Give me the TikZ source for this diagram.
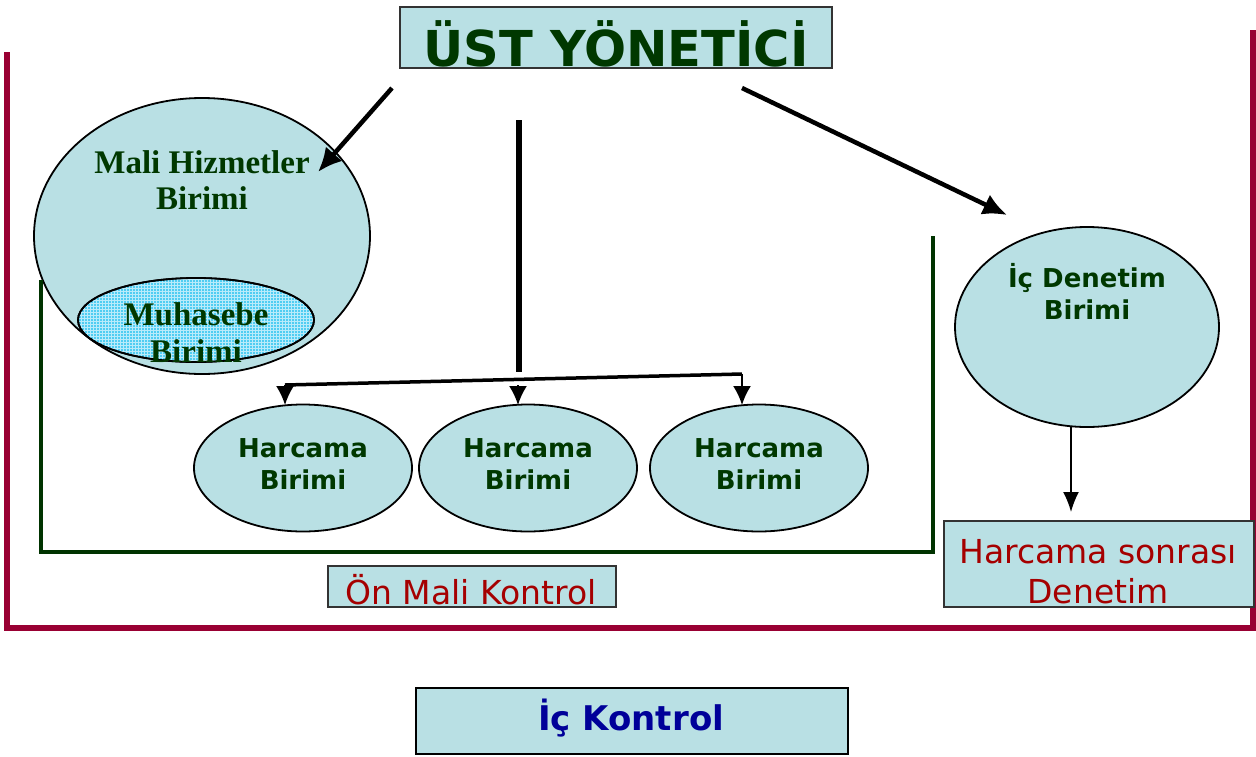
\documentclass[tikz,border=0pt]{standalone}
\usepackage{fontspec}
\usetikzlibrary{shapes.geometric,arrows.meta,patterns}
\newfontfamily\vfont{DejaVu Sans}
\newfontfamily\serfont{Liberation Serif}
\definecolor{lb}{RGB}{185,224,228}
\definecolor{dg}{RGB}{0,56,0}
\definecolor{frm}{RGB}{153,0,51}
\definecolor{brk}{RGB}{0,51,0}
\definecolor{mr}{RGB}{165,0,0}
\definecolor{db}{RGB}{0,0,153}
\definecolor{cy}{RGB}{80,205,242}
\tikzset{
  box/.style={draw=black!80, line width=2pt, fill=lb, inner sep=0pt},
  oval/.style={ellipse, draw=black, line width=1.8pt, fill=lb, inner sep=0pt},
  txt/.style={anchor=base, inner sep=0pt, outer sep=0pt},
  bigarrow/.style={line width=4.5pt, -{Latex[length=24pt,width=22pt]}},
  smallarrow/.style={line width=2pt, -{Latex[length=19pt,width=18pt]}},
}
\begin{document}
\begin{tikzpicture}[x=1pt,y=-1pt]
\useasboundingbox (0,0) rectangle (1256,756);
% frame
\draw[frm, line width=6pt] (7,52) -- (7,628) -- (1256,628);
\draw[frm, line width=6pt] (1253,30) -- (1253,628);
% top box
\node[box, minimum width=432pt, minimum height=61pt] (ust) at (616,37.5) {};
\node[txt, text=dg, font=\vfont\bfseries\fontsize{49.5}{56}\selectfont] (usttxt) at (616,66) {ÜST YÖNETİCİ};
% Mali Hizmetler ellipse
\node[oval, minimum width=336pt, minimum height=276pt] (mali) at (202,236) {};
\node[txt, text=dg, font=\serfont\bfseries\fontsize{33}{38}\selectfont] (mali1) at (202,173) {Mali Hizmetler};
\node[txt, text=dg, font=\serfont\bfseries\fontsize{33}{38}\selectfont] (mali2) at (202,209) {Birimi};
% Muhasebe ellipse
\node[oval, fill=cy, minimum width=236pt, minimum height=84pt] (muh) at (196,320) {};
\fill[pattern=grid, pattern color=white!60!cy] (muh.center) ellipse [x radius=117pt, y radius=41pt];
\draw[line width=1.8pt] (muh.center) ellipse [x radius=118pt, y radius=42pt];
\begin{scope}
\clip (0,0) rectangle (1256,362);
\node[txt, text=dg, font=\serfont\bfseries\fontsize{33}{38}\selectfont] (muh1) at (196,325) {Muhasebe};
\node[txt, text=dg, font=\serfont\bfseries\fontsize{33}{38}\selectfont] (muh2) at (196,362) {Birimi};
\end{scope}
% green bracket
\draw[brk, line width=4pt] (41,280) -- (41,552) -- (933,552) -- (933,236);
% arrow to Mali
\coordinate (a1s) at (392,88);
\coordinate (a1e) at (318,172);
\draw[bigarrow] (a1s) -- (a1e);
% trunk and branches
\coordinate (tr1) at (519,120);
\coordinate (tr2) at (519,372);
\draw[line width=6pt] (tr1) -- (tr2);
\coordinate (bl) at (285,385);
\coordinate (bm) at (518,385);
\coordinate (br) at (742,374);
\draw[line width=3.5pt, line join=round] (bl) -- (br);
% Harcama ellipses
\node[oval, minimum width=218pt, minimum height=127pt] (h1) at (303,468) {};
\node[oval, minimum width=218pt, minimum height=127pt] (h2) at (528,468) {};
\node[oval, minimum width=218pt, minimum height=127pt] (h3) at (759,468) {};
\coordinate (h1t) at (285,405);
\coordinate (h2t) at (518,405);
\coordinate (h3t) at (742,405);
\draw[smallarrow] (bl) -- (h1t);
\draw[smallarrow] (bm) -- (h2t);
\draw[smallarrow] (br) -- (h3t);
\foreach \n/\x in {h1/303,h2/528,h3/759}{
  \node[txt, text=dg, font=\vfont\bfseries\fontsize{26}{30}\selectfont] (\n a) at (\x,457) {Harcama};
  \node[txt, text=dg, font=\vfont\bfseries\fontsize{26}{30}\selectfont] (\n b) at (\x,489) {Birimi};
}
% arrow to Ic Denetim
\coordinate (a2s) at (742,88);
\coordinate (a2e) at (1007,215);
\draw[bigarrow] (a2s) -- (a2e);
% Ic Denetim ellipse
\node[oval, minimum width=264pt, minimum height=200pt] (ic) at (1087,327) {};
\node[txt, text=dg, font=\vfont\bfseries\fontsize{26}{30}\selectfont] (ic1) at (1087,287) {İç Denetim};
\node[txt, text=dg, font=\vfont\bfseries\fontsize{26}{30}\selectfont] (ic2) at (1087,319) {Birimi};
% Harcama sonrasi box
\node[box, minimum width=310pt, minimum height=86pt] (hs) at (1098.5,564) {};
\coordinate (ics) at (1071,427);
\coordinate (hst) at (1071,512);
\draw[line width=1.6pt, -{Latex[length=20pt,width=16pt]}] (ics) -- (hst);
\node[txt, text=mr, font=\vfont\fontsize{33}{38}\selectfont] (hs1) at (1098,563) {Harcama sonrası};
\node[txt, text=mr, font=\vfont\fontsize{33}{38}\selectfont] (hs2) at (1098,603) {Denetim};
% On Mali Kontrol box
\node[box, minimum width=288pt, minimum height=41pt] (on) at (472,586.5) {};
\node[txt, text=mr, font=\vfont\fontsize{33}{38}\selectfont] (ontxt) at (471,604) {Ön Mali Kontrol};
% Ic Kontrol box
\node[box, draw=black, line width=2.5pt, minimum width=432pt, minimum height=66pt] (ick) at (632,721) {};
\node[txt, text=db, font=\vfont\bfseries\fontsize{34}{40}\selectfont] (icktxt) at (631,730) {İç Kontrol};
\end{tikzpicture}
\end{document}
